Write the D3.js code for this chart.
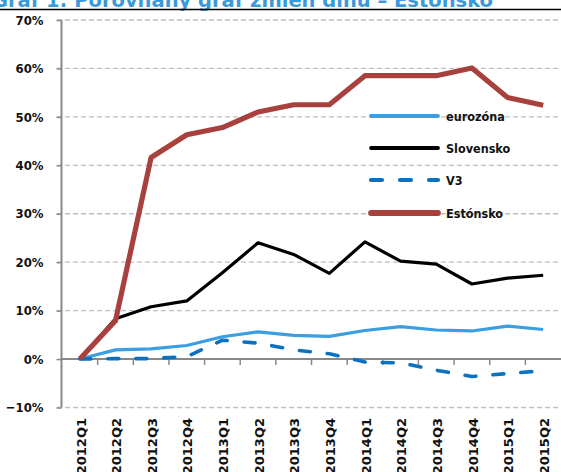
<!DOCTYPE html>
<html>
<head>
<meta charset="utf-8">
<script src="https://d3js.org/d3.v7.min.js"></script>
<style>
  body { margin: 0; background: white; }
  svg text { font-family: 'DejaVu Sans Condensed', 'DejaVu Sans', sans-serif; font-weight: bold; }
</style>
</head>
<body>
<svg id="chart" width="561" height="472"></svg>
<script>
const periods = ['2012Q1','2012Q2','2012Q3','2012Q4','2013Q1','2013Q2','2013Q3','2013Q4',
                 '2014Q1','2014Q2','2014Q3','2014Q4','2015Q1','2015Q2'];
const eurozona  = [0, 1.9, 2.1, 2.8, 4.6, 5.6, 4.9, 4.7, 5.9, 6.7, 6.0, 5.8, 6.8, 6.1];
const slovensko = [0, 8.3, 10.8, 12.0, 17.8, 24.0, 21.6, 17.7, 24.2, 20.2, 19.6, 15.5, 16.7, 17.3];
const v3        = [0, 0.1, 0.1, 0.5, 3.9, 3.3, 1.9, 1.1, -0.6, -0.8, -2.3, -3.6, -3.0, -2.4];
const estonsko  = [0, 7.9, 41.6, 46.3, 47.8, 51.0, 52.5, 52.5, 58.5, 58.5, 58.5, 60.1, 54.0, 52.4];
const yTicks = [-10, 0, 10, 20, 30, 40, 50, 60, 70];

const series = [
  { name: 'eurozóna',  values: eurozona,  color: '#3a9ee0', width: 3.2, dash: null },
  { name: 'Slovensko', values: slovensko, color: '#000000', width: 3.2, dash: null },
  { name: 'V3',        values: v3,        color: '#0b72c2', width: 3.6, dash: '11,17' },
  { name: 'Estónsko',  values: estonsko,  color: '#a8413e', width: 5.2, dash: null }
];

const svg = d3.select('#chart');
const x = d3.scaleBand().domain(periods).range([62, 561]);
const y = d3.scaleLinear().domain([-10, 70]).range([407.5, 20]);
const cx = d => x(d) + x.bandwidth() / 2;

// title (cut off at top) and rule
svg.append('text')
  .attr('x', 493).attr('y', 7)
  .attr('text-anchor', 'end')
  .attr('fill', '#3a9ad9')
  .style('font-size', '19.5px')
  .style('font-family', "'DejaVu Sans', sans-serif")
  .text('Graf 1: Porovnaný graf zmien dlhu – Estónsko');
svg.append('line')
  .attr('x1', 0).attr('x2', 561).attr('y1', 9.5).attr('y2', 9.5)
  .attr('stroke', '#000').attr('stroke-width', 1.5);

// gridlines
svg.append('g').selectAll('line')
  .data(yTicks.filter(t => t !== 0))
  .join('line')
  .attr('x1', 57).attr('x2', 561)
  .attr('y1', d => y(d)).attr('y2', d => y(d))
  .attr('stroke', '#c0c0c0').attr('stroke-width', 1.3)
  .attr('stroke-dasharray', '5,3');

// y axis
const yAxis = d3.axisLeft(y).tickValues(yTicks).tickSize(5).tickFormat(d => (d < 0 ? '−' : '') + Math.abs(d) + '%');
const gy = svg.append('g').attr('transform', 'translate(61.5,0)').call(yAxis);
gy.select('.domain').attr('stroke', '#888').attr('stroke-width', 2).attr('d', 'M0,' + y(70) + 'V' + y(-10));
gy.selectAll('.tick line').attr('stroke', '#888').attr('stroke-width', 1.5);
gy.selectAll('.tick text').attr('x', -18).style('font-size', '13px').attr('fill', '#111');

// x axis at zero
const xAxis = d3.axisBottom(x).tickSize(0).tickFormat('');
const gx = svg.append('g').attr('transform', 'translate(0,' + y(0) + ')').call(xAxis);
gx.select('.domain').attr('stroke', '#888').attr('stroke-width', 2).attr('d', 'M61.5,0H561');
gx.selectAll('.tick').remove();
gx.selectAll('.sep')
  .data(periods.slice(1))
  .join('line')
  .attr('x1', d => x(d)).attr('x2', d => x(d))
  .attr('y1', 0).attr('y2', 6)
  .attr('stroke', '#888').attr('stroke-width', 1.5);

// x labels
svg.append('g').selectAll('text')
  .data(periods)
  .join('text')
  .attr('transform', d => 'translate(' + (cx(d) + 1) + ',418) rotate(-90)')
  .attr('text-anchor', 'end')
  .attr('dy', '0.36em')
  .style('font-size', '13px')
  .style('font-family', "'DejaVu Sans', sans-serif")
  .attr('fill', '#111')
  .text(d => d);

// lines
const line = d3.line().x((d, i) => cx(periods[i])).y(d => y(d));
svg.append('g').selectAll('path')
  .data(series)
  .join('path')
  .attr('d', d => line(d.values))
  .attr('fill', 'none')
  .attr('stroke', d => d.color)
  .attr('stroke-width', d => d.width)
  .attr('stroke-dasharray', d => d.dash)
  .attr('stroke-linecap', d => d.dash ? 'round' : 'butt')
  .attr('stroke-linejoin', 'round');

// legend
const legY = [116, 148, 180, 213];
const leg = svg.append('g').selectAll('g')
  .data(series)
  .join('g')
  .attr('transform', (d, i) => 'translate(0,' + legY[i] + ')');
leg.append('line')
  .attr('x1', 371).attr('x2', 438)
  .attr('stroke', d => d.color)
  .attr('stroke-width', d => d.width + 0.6)
  .attr('stroke-linecap', 'round')
  .attr('stroke-dasharray', d => d.dash ? '11,18' : null);
leg.append('text')
  .attr('x', 446).attr('dy', '0.36em')
  .style('font-size', '12.5px')
  .attr('fill', '#111')
  .text(d => d.name);
</script>
</body>
</html>
